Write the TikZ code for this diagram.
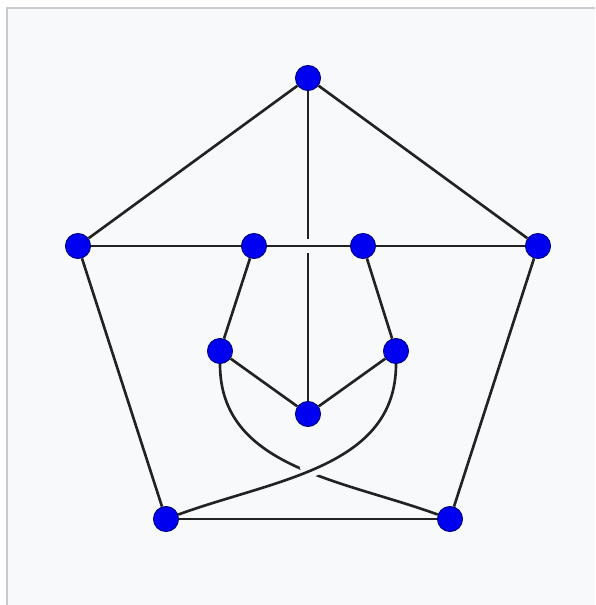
\documentclass[tikz,border=0pt]{standalone}
\usetikzlibrary{calc}
\definecolor{pagebg}{HTML}{F8F9FA}
\definecolor{framegray}{HTML}{C8CCD1}
\definecolor{vtxblue}{HTML}{0000F0}
\definecolor{vtxrim}{HTML}{00008B}
\definecolor{linkgray}{HTML}{222222}

\begin{document}
\begin{tikzpicture}[
  x=0.02cm, y=-0.02cm,
  vtx/.style={circle, draw=vtxrim, fill=vtxblue, line width=0.6pt,
    minimum size=0.5cm, inner sep=0pt},
  link/.style={draw=linkgray, line width=1.5pt},
  halo/.style={draw=pagebg, line width=8pt}
]

% ── page ─────────────────────────────────────────────────────────────────
\useasboundingbox (0,0) rectangle (595,605);
\fill[white] (0,0) rectangle (595,605);
\fill[pagebg] (7,8) rectangle (595,605);
\draw[framegray, line width=0.04cm] (7,605) -- (7,8) -- (595,8);

% ── vertices ─────────────────────────────────────────────────────────────
\node[vtx] (top) at (308,78) {};
\node[vtx] (oL)  at (78,246) {};
\node[vtx] (uL)  at (254,246) {};
\node[vtx] (uR)  at (363,246) {};
\node[vtx] (oR)  at (538,246) {};
\node[vtx] (mL)  at (220,351) {};
\node[vtx] (mR)  at (396,351) {};
\node[vtx] (ctr) at (308,414) {};
\node[vtx] (bL)  at (166,519) {};
\node[vtx] (bR)  at (450,519) {};

% ── outer pentagon ───────────────────────────────────────────────────────
\draw[link] (top) -- (oL);
\draw[link] (top) -- (oR);
\draw[link] (oL) -- (bL);
\draw[link] (oR) -- (bR);
\draw[link] (bL) -- (bR);

% ── spokes and inner path ────────────────────────────────────────────────
\draw[link] (top) -- (ctr);
\draw[link] (oL) -- (uL);
\draw[link] (uR) -- (oR);
\draw[halo, shorten <=0.6cm, shorten >=0.6cm] (uL) -- (uR);
\draw[link] (uL) -- (uR);
\draw[link] (uL) -- (mL);
\draw[link] (uR) -- (mR);
\draw[link] (mL) -- (ctr);
\draw[link] (mR) -- (ctr);

% ── crossing pair ────────────────────────────────────────────────────────
\draw[link] (mL) to[out=-90, in=160] (bR);
\path (mR) to[out=-90, in=20]
  coordinate[pos=0.51] (xa) coordinate[pos=0.58] (xb) (bL);
\draw[halo] (xa) -- (xb);
\draw[link] (mR) to[out=-90, in=20] (bL);

\end{tikzpicture}
\end{document}
